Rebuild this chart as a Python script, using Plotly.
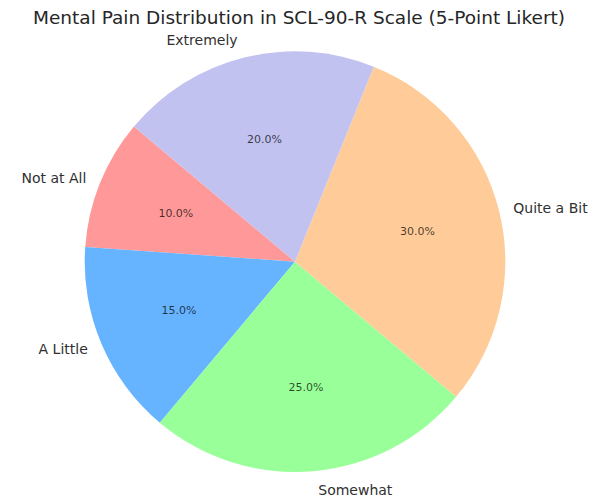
import plotly.graph_objects as go

categories = ["Not at All", "A Little", "Somewhat", "Quite a Bit", "Extremely"]
values = [10, 15, 25, 30, 20]
colors = ["#ff9999", "#66b3ff", "#99ff99", "#ffcc99", "#c2c2f0"]

W, H = 598, 503
CX, CY, R = 298.0, 267.5, 215.0  # pie centre and radius in pixels


def domain(scale):
    rr = R * scale
    return dict(x=[(CX - rr) / W, (CX + rr) / W],
                y=[1 - (CY + rr) / H, 1 - (CY - rr) / H])


common = dict(labels=categories, values=values, sort=False,
              direction="counterclockwise", rotation=-86, showlegend=False)

fig = go.Figure()
# coloured wedges
fig.add_trace(go.Pie(
    **common, marker=dict(colors=colors, line=dict(width=0)),
    textinfo="none", domain=domain(1.0), hoverinfo="label+percent",
))
# percentage labels (transparent ring so text sits at ~0.6 r)
fig.add_trace(go.Pie(
    **common, marker=dict(colors=["rgba(0,0,0,0)"] * 5, line=dict(width=0)),
    hole=0.5, texttemplate="%{percent:.1%}", textposition="inside",
    insidetextorientation="horizontal",
    textfont=dict(family="DejaVu Sans", size=11, color="rgba(0,0,0,0.72)"),
    domain=domain(0.8), hoverinfo="skip",
))
# category labels outside
fig.add_trace(go.Pie(
    **common, marker=dict(colors=["rgba(0,0,0,0)"] * 5, line=dict(width=0)),
    texttemplate="%{label}", textposition="outside",
    textfont=dict(family="DejaVu Sans", size=14, color="#303030"),
    domain=domain(1.05), hoverinfo="skip",
))
fig.update_layout(
    width=W, height=H, margin=dict(l=0, r=0, t=0, b=0),
    paper_bgcolor="white", plot_bgcolor="white",
    title=dict(text="Mental Pain Distribution in SCL-90-R Scale (5-Point Likert)",
               x=0.5, xanchor="center", y=1 - 18 / H, yanchor="middle",
               font=dict(family="DejaVu Sans", size=18.5, color="#262626")),
)
fig.write_html("out.html")
